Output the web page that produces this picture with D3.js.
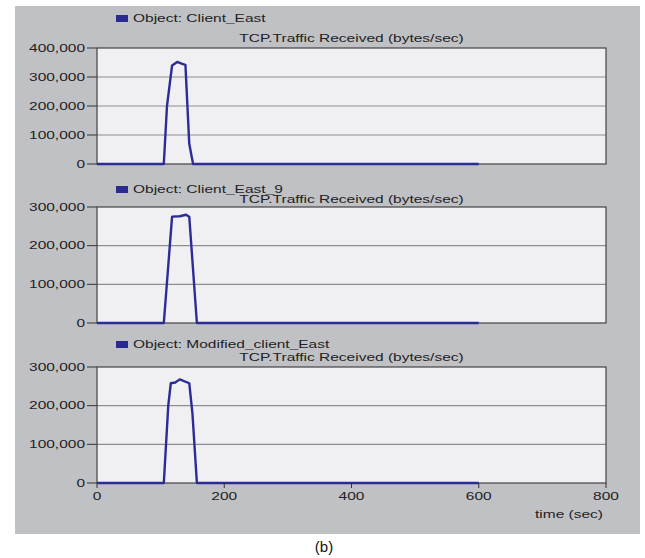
<!DOCTYPE html>
<html>
<head>
<meta charset="utf-8">
<script src="https://cdn.jsdelivr.net/npm/d3@7"></script>
<style>
  body { margin: 0; background: #fff; }
  svg text { font-family: "Liberation Sans", Arial, sans-serif; fill: #222; }
</style>
</head>
<body>
<svg id="chart" width="645" height="558"></svg>
<script>
// series names + data (time in sec, traffic in bytes/sec)
const objectNames = ["Client_East", "Client_East_9", "Modified_client_East"];
const chartTitle = "TCP.Traffic Received (bytes/sec)";

const timeEast = [0, 105, 110, 118, 126, 134, 139, 145, 151, 600];
const valsEast = [0, 0, 200000, 340000, 352000, 345000, 342000, 70000, 0, 0];

const timeEast9 = [0, 105, 118, 130, 140, 145, 157, 600];
const valsEast9 = [0, 0, 275000, 276000, 280000, 275000, 0, 0];

const timeModified = [0, 105, 112, 116, 123, 130, 145, 150, 157, 600];
const valsModified = [0, 0, 200000, 258000, 260000, 268000, 258000, 180000, 0, 0];

const yMaxes = [400000, 300000, 300000];
const xTicks = [0, 200, 400, 600, 800];

const svg = d3.select("#chart");
const SX = 1.55; // text in the picture is stretched sideways

function label(g, x, y, txt, anchor, size) {
  return g.append("text")
    .attr("transform", `translate(${x},${y}) scale(${SX},1)`)
    .attr("text-anchor", anchor || "start")
    .style("font-size", (size || 10) + "px")
    .text(txt);
}

// gray panel
svg.append("rect")
  .attr("x", 15).attr("y", 6)
  .attr("width", 625).attr("height", 528)
  .attr("fill", "#c0c1c5");

const x = d3.scaleLinear().domain([0, 800]).range([97, 606]);

// each panel: top / bottom of plot, legend and title baselines
const panels = [
  { name: objectNames[0], t: timeEast, v: valsEast, ymax: yMaxes[0], top: 48, bottom: 164, legendY: 22, titleY: 42 },
  { name: objectNames[1], t: timeEast9, v: valsEast9, ymax: yMaxes[1], top: 207, bottom: 323, legendY: 193, titleY: 203 },
  { name: objectNames[2], t: timeModified, v: valsModified, ymax: yMaxes[2], top: 367, bottom: 483, legendY: 348, titleY: 361 }
];

panels.forEach(function(p, i) {
  const g = svg.append("g");
  const y = d3.scaleLinear().domain([0, p.ymax]).range([p.bottom, p.top]);

  // legend
  g.append("rect")
    .attr("x", 116).attr("y", p.legendY - 7)
    .attr("width", 12).attr("height", 7)
    .attr("fill", "#2b2b8f");
  label(g, 133, p.legendY, "Object: " + p.name);

  // title
  label(g, (x.range()[0] + x.range()[1]) / 2, p.titleY, chartTitle, "middle");

  // plot area
  g.append("rect")
    .attr("x", x.range()[0]).attr("y", p.top)
    .attr("width", x.range()[1] - x.range()[0])
    .attr("height", p.bottom - p.top)
    .attr("fill", "#f0f0f2");

  const yTicks = d3.range(0, p.ymax + 1, 100000);

  // grid
  g.selectAll(".grid")
    .data(yTicks.filter(d => d > 0 && d < p.ymax))
    .enter().append("line")
    .attr("x1", x.range()[0]).attr("x2", x.range()[1])
    .attr("y1", d => y(d)).attr("y2", d => y(d))
    .attr("stroke", "#8e8e92").attr("stroke-width", 1.2);

  // y ticks
  g.selectAll(".ytick")
    .data(yTicks)
    .enter().append("line")
    .attr("x1", 87).attr("x2", x.range()[0])
    .attr("y1", d => y(d)).attr("y2", d => y(d))
    .attr("stroke", "#333");

  yTicks.forEach(function(d) {
    label(g, 85, y(d) + 3.5, d3.format(",")(d), "end");
  });

  // border
  g.append("rect")
    .attr("x", x.range()[0]).attr("y", p.top)
    .attr("width", x.range()[1] - x.range()[0])
    .attr("height", p.bottom - p.top)
    .attr("fill", "none")
    .attr("stroke", "#444").attr("stroke-width", 1.2);

  // series line
  const pts = p.t.map((t, k) => [t, p.v[k]]);
  const line = d3.line().x(d => x(d[0])).y(d => y(d[1]));
  g.append("path")
    .datum(pts)
    .attr("d", line)
    .attr("fill", "none")
    .attr("stroke", "#2c2c98")
    .attr("stroke-width", 2.4)
    .attr("stroke-linejoin", "round");

  // x axis only on last panel
  if (i === panels.length - 1) {
    g.selectAll(".xtick")
      .data(xTicks)
      .enter().append("line")
      .attr("x1", d => x(d)).attr("x2", d => x(d))
      .attr("y1", p.bottom).attr("y2", p.bottom + 5)
      .attr("stroke", "#333");
    xTicks.forEach(function(d) {
      label(g, x(d), p.bottom + 17, d, "middle");
    });
    label(g, 603, p.bottom + 35, "time (sec)", "end");
  }
});

svg.append("text")
  .attr("x", 324).attr("y", 552)
  .attr("text-anchor", "middle")
  .style("font-size", "15px")
  .style("fill", "#111")
  .text("(b)");
</script>
</body>
</html>
